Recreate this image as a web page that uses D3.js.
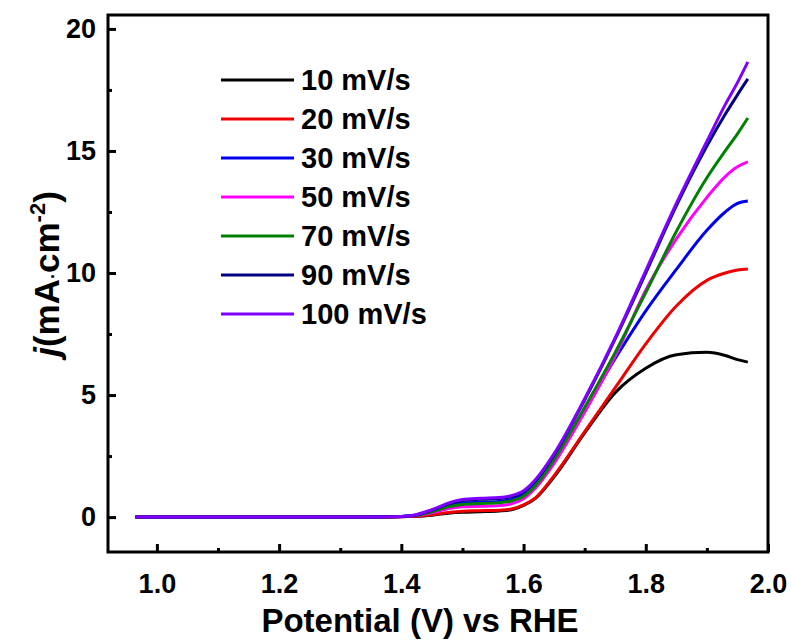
<!DOCTYPE html>
<html>
<head>
<meta charset="utf-8">
<script src="https://cdn.jsdelivr.net/npm/d3@7"></script>
<style>
  body { margin: 0; background: #fff; }
  svg { font-family: "Liberation Sans", Arial, sans-serif; font-weight: bold; }
</style>
</head>
<body>
<svg></svg>
<script>
var width = 793,
    height = 641

// potential grid (V vs RHE)
var potential = [0.965, 1.3, 1.38, 1.42, 1.45, 1.48, 1.5, 1.53, 1.56, 1.58, 1.6, 1.62, 1.65, 1.7, 1.75, 1.8, 1.85, 1.9, 1.93, 1.95, 1.967]

var scanRates = ["10 mV/s", "20 mV/s", "30 mV/s", "50 mV/s", "70 mV/s", "90 mV/s", "100 mV/s"]
var colors = ["#000000", "#ee0000", "#0000ee", "#ff00ff", "#008000", "#000080", "#7f00ff"]

// current density j (mA cm-2) for each scan rate
var j10  = [0, 0, 0, 0.03, 0.08, 0.17, 0.2, 0.22, 0.25, 0.3, 0.48, 0.78, 1.65, 3.45, 5.1, 6.1, 6.65, 6.75, 6.62, 6.45, 6.35]
var j20  = [0, 0, 0, 0.03, 0.1, 0.2, 0.24, 0.26, 0.28, 0.33, 0.5, 0.8, 1.7, 3.5, 5.3, 7.1, 8.65, 9.7, 10.0, 10.12, 10.16]
var j30  = [0, 0, 0.01, 0.07, 0.25, 0.5, 0.58, 0.61, 0.64, 0.72, 0.95, 1.4, 2.4, 4.4, 6.5, 8.45, 10.15, 11.75, 12.5, 12.85, 12.95]
var j50  = [0, 0, 0.01, 0.05, 0.18, 0.36, 0.42, 0.44, 0.47, 0.54, 0.75, 1.2, 2.2, 4.3, 6.6, 9.3, 11.4, 13.1, 13.95, 14.35, 14.55]
var j70  = [0, 0, 0.01, 0.06, 0.22, 0.44, 0.52, 0.56, 0.59, 0.66, 0.85, 1.3, 2.35, 4.5, 6.75, 9.2, 11.7, 13.9, 15.0, 15.7, 16.35]
var j90  = [0, 0, 0.01, 0.07, 0.28, 0.56, 0.68, 0.73, 0.76, 0.84, 1.03, 1.5, 2.55, 4.8, 7.3, 10.0, 12.75, 15.2, 16.5, 17.3, 17.95]
var j100 = [0, 0, 0.01, 0.08, 0.3, 0.6, 0.72, 0.77, 0.8, 0.88, 1.08, 1.55, 2.6, 4.85, 7.35, 10.1, 12.85, 15.4, 16.9, 17.8, 18.65]

var xTicks = [1.0, 1.2, 1.4, 1.6, 1.8, 2.0]
var yTicks = [0, 5, 10, 15, 20]

var series = [j10, j20, j30, j50, j70, j90, j100]

var svg = d3.select("svg").attr("width", width).attr("height", height)

var mLeft = 108, mRight = 768, mTop = 15, mBottom = 552

var x = d3.scaleLinear().domain([0.92, 2.0]).range([mLeft, mRight])
var y = d3.scaleLinear().domain([-1.43, 20.57]).range([mBottom, mTop])

// minor ticks first
svg.append("g")
  .attr("transform", "translate(0," + mBottom + ")")
  .call(d3.axisBottom(x).tickValues([1.1, 1.3, 1.5, 1.7, 1.9]).tickSize(-4).tickFormat(""))
  .call(g => g.select(".domain").remove())
  .selectAll("line").attr("stroke-width", 3)

svg.append("g")
  .attr("transform", "translate(" + mLeft + ",0)")
  .call(d3.axisLeft(y).tickValues([2.5, 7.5, 12.5, 17.5]).tickSize(-4).tickFormat(""))
  .call(g => g.select(".domain").remove())
  .selectAll("line").attr("stroke-width", 3)

var xAxis = svg.append("g")
  .attr("transform", "translate(0," + mBottom + ")")
  .call(d3.axisBottom(x).tickValues(xTicks).tickSize(-8).tickPadding(22).tickFormat(d3.format(".1f")))
xAxis.select(".domain").remove()
xAxis.selectAll("line").attr("stroke-width", 3)
xAxis.selectAll("text").attr("font-size", 27).attr("font-family", "Liberation Sans, Arial").attr("font-weight", "bold").attr("fill", "#000")

var yAxis = svg.append("g")
  .attr("transform", "translate(" + mLeft + ",0)")
  .call(d3.axisLeft(y).tickValues(yTicks).tickSize(-8).tickPadding(12))
yAxis.select(".domain").remove()
yAxis.selectAll("line").attr("stroke-width", 3)
yAxis.selectAll("text").attr("font-size", 27).attr("font-family", "Liberation Sans, Arial").attr("font-weight", "bold").attr("fill", "#000")

var line = d3.line()
  .x(function(d, i) { return x(potential[i]) })
  .y(function(d) { return y(d) })
  .curve(d3.curveMonotoneX)

svg.append("g").selectAll("path")
  .data(series)
  .enter().append("path")
  .attr("d", line)
  .attr("fill", "none")
  .attr("stroke", function(d, i) { return colors[i] })
  .attr("stroke-width", 3)
  .attr("stroke-linejoin", "round")

// frame
svg.append("rect")
  .attr("x", mLeft).attr("y", mTop)
  .attr("width", mRight - mLeft).attr("height", mBottom - mTop)
  .attr("fill", "none").attr("stroke", "#000").attr("stroke-width", 3)

// legend
var legend = svg.append("g")
var rows = legend.selectAll("g")
  .data(scanRates)
  .enter().append("g")
  .attr("transform", function(d, i) { return "translate(221," + (80 + i * 39) + ")" })

rows.append("line")
  .attr("x1", 0).attr("x2", 73)
  .attr("stroke", function(d, i) { return colors[i] })
  .attr("stroke-width", 3)

rows.append("text")
  .attr("x", 80).attr("dy", "0.36em")
  .attr("font-size", 29)
  .text(function(d) { return d })

// axis titles
svg.append("text")
  .attr("x", 420).attr("y", 632)
  .attr("text-anchor", "middle")
  .attr("font-size", 33)
  .text("Potential (V) vs RHE")

var yt = svg.append("text")
  .attr("transform", "translate(59,274) rotate(-90)")
  .attr("text-anchor", "middle")
  .attr("font-size", 35)
yt.append("tspan").attr("font-style", "italic").text("j")
yt.append("tspan").text("(mA")
yt.append("tspan").attr("font-size", 18).text("·")
yt.append("tspan").text("cm")
yt.append("tspan").attr("font-size", 22).attr("dy", -14).text("-2")
yt.append("tspan").attr("dy", 14).text(")")
</script>
</body>
</html>
